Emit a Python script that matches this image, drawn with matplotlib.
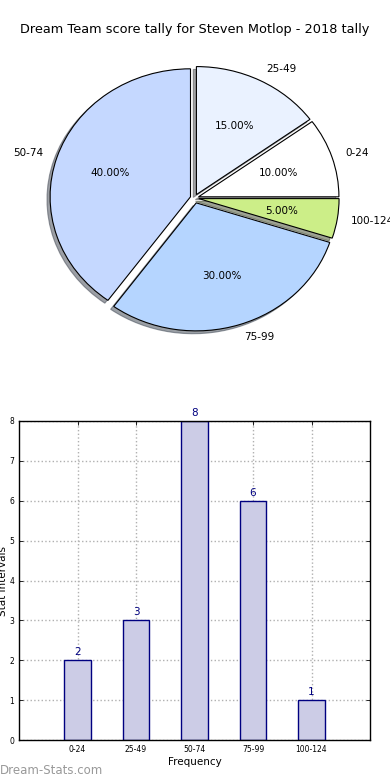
import matplotlib
matplotlib.use("Agg")
import matplotlib.pyplot as plt

# ---- data ----
categories = ["0-24", "25-49", "50-74", "75-99", "100-124"]
percentages = [10, 15, 40, 30, 5]
frequencies = [2, 3, 8, 6, 1]
pie_colors = ["#ffffff", "#eaf2ff", "#c5d8ff", "#b5d5ff", "#ccee88"]
explode = [0.03, 0.03, 0.03, 0.04, 0.03]
yticks = [0, 1, 2, 3, 4, 5, 6, 7, 8]
title = "Dream Team score tally for Steven Motlop - 2018 tally"

W, H = 390, 780
fig = plt.figure(figsize=(W / 100, H / 100), dpi=100)

# ---- pie ----
ax1 = fig.add_axes([19 / W, 422 / H, 351 / W, 320 / H])
wedges, texts, autotexts = ax1.pie(
    percentages, labels=categories, colors=pie_colors, explode=explode,
    autopct="%1.2f%%", shadow=dict(ox=-0.016, oy=-0.016), startangle=0,
    wedgeprops=dict(edgecolor="black", linewidth=0.8),
    textprops=dict(fontsize=7.5, color="black"))
ax1.set_aspect("auto")
ax1.set_xlim(-1.25, 1.25)
ax1.set_ylim(-1.25, 1.25)
for t in texts + autotexts:
    t.set_clip_on(False)

fig.text(0.5, 1 - 30 / H, title, ha="center", va="center", fontsize=9.3)

# ---- bars ----
ax2 = fig.add_axes([19 / W, 40 / H, 351 / W, 319 / H])
x = list(range(len(categories)))
bars = ax2.bar(x, frequencies, width=0.45, color="#ccccE6", edgecolor="#000080",
               linewidth=1.0, zorder=2)
for xi, v in zip(x, frequencies):
    ax2.text(xi, v + 0.08, str(v), ha="center", va="bottom", fontsize=7.5,
             color="#000080")
ax2.set_xlim(-1, 5)
ax2.set_ylim(0, 8)
ax2.set_xticks(x)
ax2.set_xticklabels(categories, fontsize=5.5)
ax2.set_yticks(yticks)
ax2.set_yticklabels([str(v) for v in yticks], fontsize=5.5)
ax2.tick_params(direction="in", top=True, right=True, length=3, width=0.6)
ax2.grid(True, linestyle=":", color="#b0b0b0", linewidth=1.0, zorder=0)
ax2.set_axisbelow(True)
for s in ax2.spines.values():
    s.set_linewidth(1.0)
ax2.set_xlabel("Frequency", fontsize=7.5, labelpad=2)
ax2.set_ylabel("Stat Intervals", fontsize=7.5)
ax2.yaxis.set_label_coords(-0.03, 0.5)

fig.text(0.0, 1 - 770 / H, "Dream-Stats.com", ha="left", va="center",
         fontsize=8.5, color="#999999")

fig.savefig("out.png", dpi=100)
